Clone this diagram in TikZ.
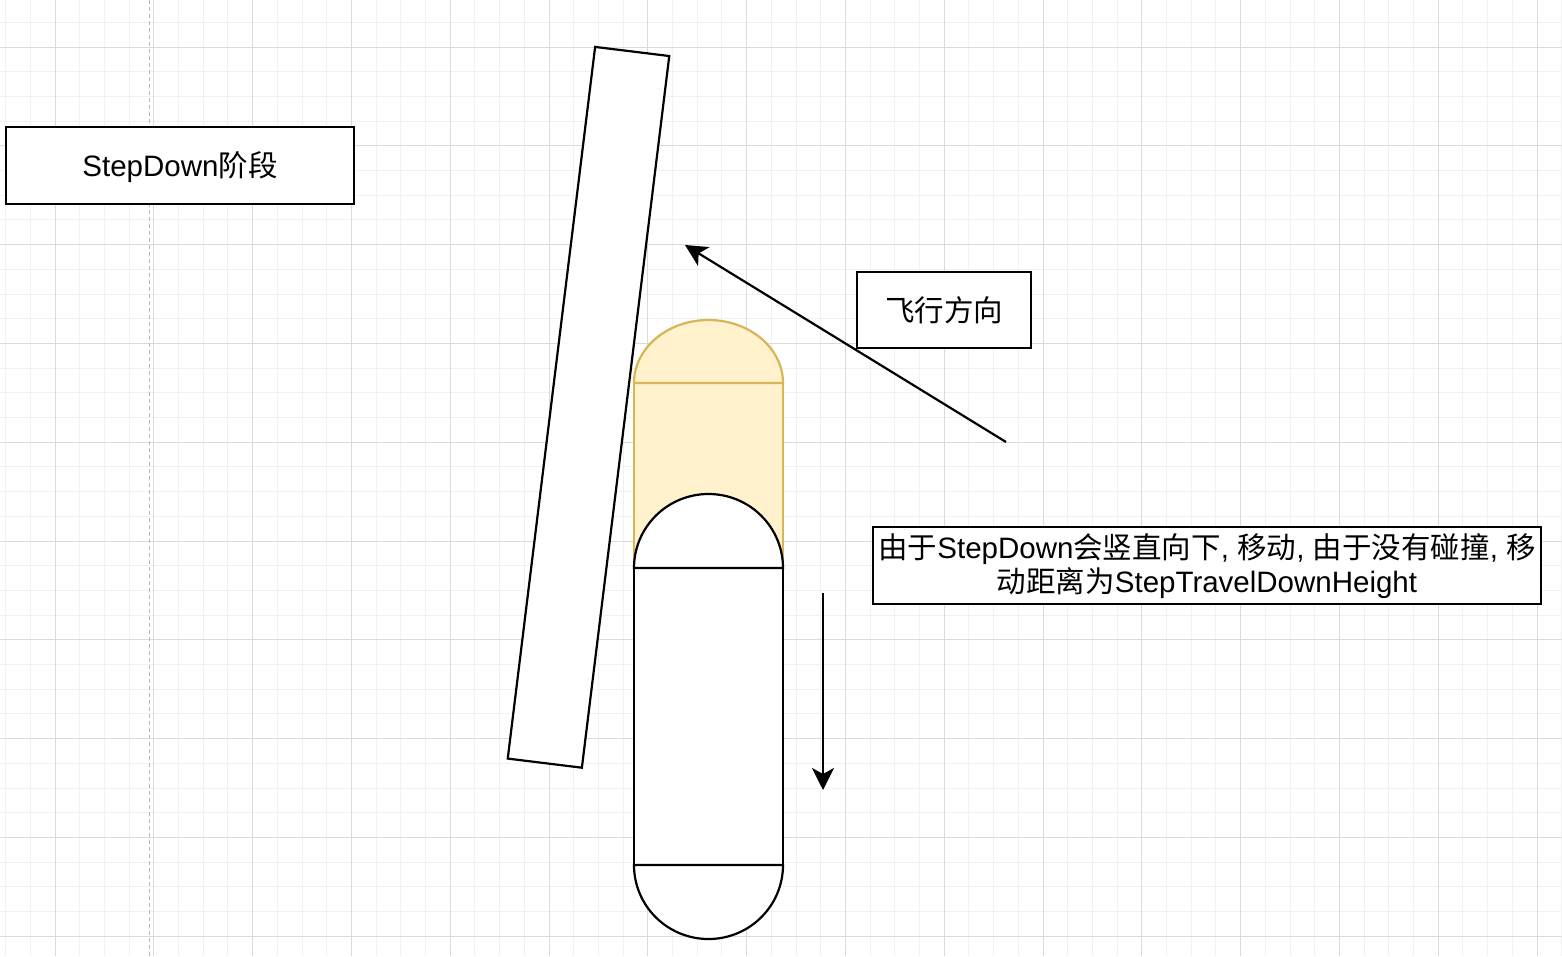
\documentclass[tikz,border=0pt]{standalone}
\usepackage{fontspec}
\setmainfont{Liberation Sans}
\newfontfamily\cjk{Noto Sans CJK SC}
\usetikzlibrary{arrows.meta}
\definecolor{gridminor}{HTML}{F1F1F1}
\definecolor{gridmajor}{HTML}{DADADA}
\definecolor{guide}{HTML}{B8B8B8}
\definecolor{yfill}{HTML}{FFF2CC}
\definecolor{ystroke}{HTML}{D6B656}
\tikzset{
  minorline/.style={gridminor, line width=1pt},
  majorline/.style={gridmajor, line width=1pt},
  labelbox/.style={draw=black, fill=white, line width=2.2pt, inner sep=0pt,
    font=\fontsize{29.5}{34}\selectfont, align=center},
  wallbox/.style={draw=black, fill=white, line width=2.2pt, inner sep=0pt},
  capyellow/.style={draw=ystroke, fill=yfill, line width=2.2pt},
  capwhite/.style={draw=black, fill=white, line width=2.2pt},
  arr/.style={draw=black, line width=2.2pt, -{Stealth[length=22pt,width=22pt,inset=6pt]}},
}
\begin{document}
\begin{tikzpicture}[x=1pt,y=-1pt]
\useasboundingbox (0,0) rectangle (1562,956);
\fill[white] (0,0) rectangle (1562,956);
% grid
\foreach \i in {0,...,63} {
  \pgfmathsetmacro\gx{5.6+24.7*\i}
  \draw[minorline] (\gx,0) -- (\gx,956);
}
\foreach \i in {0,...,38} {
  \pgfmathsetmacro\gy{22.3+24.7*\i}
  \draw[minorline] (0,\gy) -- (1562,\gy);
}
\foreach \i in {0,...,15} {
  \pgfmathsetmacro\gx{55+98.8*\i}
  \draw[majorline] (\gx,0) -- (\gx,956);
}
\foreach \i in {0,...,9} {
  \pgfmathsetmacro\gy{47+98.8*\i}
  \draw[majorline] (0,\gy) -- (1562,\gy);
}
% dashed guide
\draw[guide, line width=1.2pt, dash pattern=on 4pt off 3pt] (149.5,0) -- (149.5,956);

% slanted wall
\node[wallbox, minimum width=74.7pt, minimum height=717pt, rotate=-7] (wall) at (588.5,407.3) {};

% yellow capsule (previous position)
\fill[yfill] (634,383) rectangle (783,680);
\draw[ystroke, line width=2.2pt] (634,680) -- (634,383) -- (783,383) -- (783,680);
\draw[capyellow] (634,383) arc[start angle=180, end angle=0, x radius=74.5pt, y radius=63pt] -- cycle;

% white capsule (current position)
\draw[capwhite] (634,568) rectangle (783,865);
\draw[capwhite] (634,568) arc[start angle=180, end angle=0, x radius=74.5pt, y radius=74pt] -- cycle;
\draw[capwhite] (634,865) arc[start angle=180, end angle=360, x radius=74.5pt, y radius=74pt] -- cycle;

% labels
\node[labelbox, minimum width=348pt, minimum height=77pt] (stage) at (180,165.5) {\smash{\raisebox{-10.5pt}{StepDown{\cjk 阶段}}}};
\node[labelbox, minimum width=174pt, minimum height=76pt] (dir) at (944,310) {{\cjk 飞行方向}};
\node[labelbox, minimum width=668pt, minimum height=77pt] (note) at (1207,565.8)
  {{\cjk 由于}StepDown{\cjk 会竖直向下}, {\cjk 移动}, {\cjk 由于没有碰撞}, {\cjk 移}\\{\cjk 动距离为}StepTravelDownHeight};

% arrows
\coordinate (flyS) at (1006,442);
\coordinate (flyT) at (685,245);
\draw[arr] (flyS) -- (flyT);
\coordinate (downS) at (823,593);
\coordinate (downT) at (823,790);
\draw[arr] (downS) -- (downT);
\end{tikzpicture}
\end{document}
